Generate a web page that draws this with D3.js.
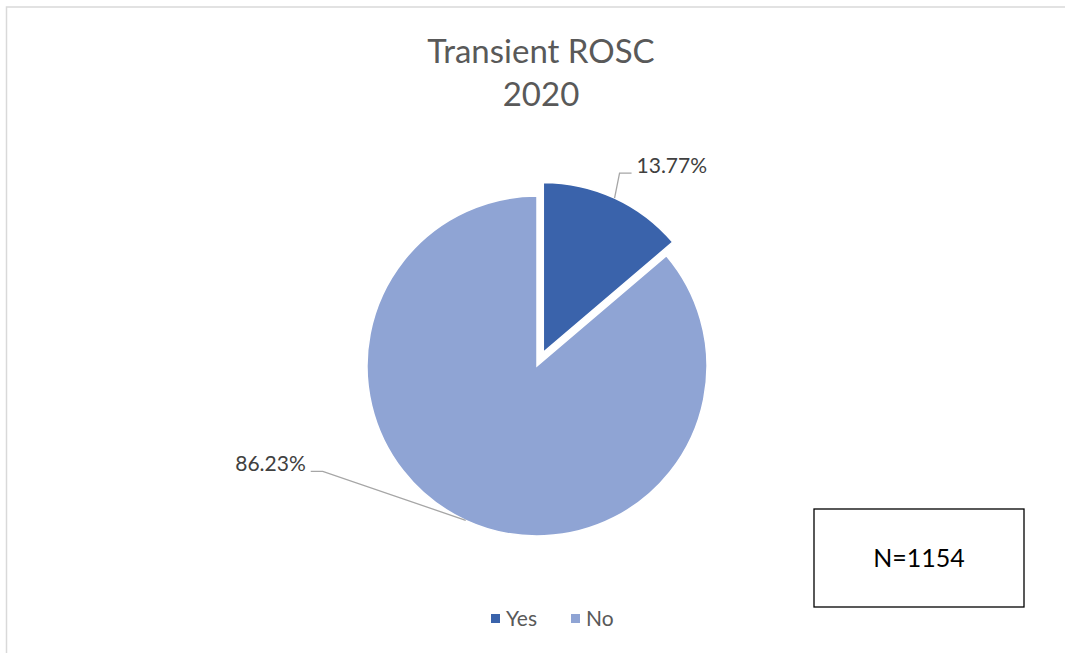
<!DOCTYPE html>
<html>
<head>
<meta charset="utf-8">
<script src="https://cdn.jsdelivr.net/npm/d3@7"></script>
<style>
  body { margin: 0; background: #fff; }
  text { font-family: Lato, "Open Sans", sans-serif; }
</style>
</head>
<body>
<div id="chart"></div>
<script>
// data
var categories = ["Yes", "No"]
var values = [13.77, 86.23]
var colors = ["#3A63AB", "#8FA4D4"]
var titleLines = ["Transient ROSC", "2020"]
var note = "N=1154"

var w = 1065
var h = 653

var cx = 537
var cy = 366
var radius = 170
var explode = [15, 0]

// label leader layout: elbow offset from slice edge, then horizontal run
var leader = [
  {dx: 5, dy: -25, run: 12},
  {dx: -143, dy: -49, run: -12}
]

var svg = d3.select("#chart").append("svg")
  .attr("width", w)
  .attr("height", h)

// chart area border (only top/left visible)
svg.append("rect")
  .attr("x", 6.5)
  .attr("y", 7)
  .attr("width", w)
  .attr("height", h)
  .attr("fill", "none")
  .attr("stroke", "#d9d9d9")
  .attr("stroke-width", 1.5)

svg.append("text")
  .attr("x", 541)
  .attr("text-anchor", "middle")
  .attr("fill", "#595959")
  .attr("font-size", 33)
  .selectAll("tspan")
  .data(titleLines)
  .enter().append("tspan")
  .attr("x", 541)
  .attr("y", (d, i) => 63 + i * 43)
  .text(d => d)

var data = categories.map((c, i) => ({cat: c, value: values[i]}))

var pie = d3.pie()
  .sort(null)
  .value(d => d.value)

var arc = d3.arc()
  .innerRadius(0)
  .outerRadius(radius)

var arcs = pie(data)

function offset(d, i) {
  var a = (d.startAngle + d.endAngle) / 2
  return [explode[i] * Math.sin(a), -explode[i] * Math.cos(a)]
}

var g = svg.append("g")
  .attr("transform", "translate(" + cx + "," + cy + ")")

g.selectAll("path.slice")
  .data(arcs)
  .enter().append("path")
  .attr("class", "slice")
  .attr("transform", (d, i) => "translate(" + offset(d, i) + ")")
  .attr("d", arc)
  .attr("fill", (d, i) => colors[i])
  .attr("stroke", "#fff")
  .attr("stroke-width", 1.5)

// data labels with leader lines
arcs.forEach(function(d, i) {
  var a = (d.startAngle + d.endAngle) / 2
  var o = offset(d, i)
  var x0 = o[0] + radius * Math.sin(a)
  var y0 = o[1] - radius * Math.cos(a)
  var x1 = x0 + leader[i].dx
  var y1 = y0 + leader[i].dy
  var x2 = x1 + leader[i].run
  g.append("polyline")
    .attr("points", [[x0, y0], [x1, y1], [x2, y1]].join(" "))
    .attr("fill", "none")
    .attr("stroke", "#a6a6a6")
    .attr("stroke-width", 1.3)
  g.append("text")
    .attr("x", x2 + (leader[i].run > 0 ? 5 : -5))
    .attr("y", y1)
    .attr("text-anchor", leader[i].run > 0 ? "start" : "end")
    .attr("fill", "#404040")
    .attr("font-size", 21)
    .text(d3.format(".2f")(d.data.value) + "%")
})

// legend
var legend = svg.append("g")
  .attr("transform", "translate(491,619)")

var lx = [0, 80]
categories.forEach(function(c, i) {
  legend.append("rect")
    .attr("x", lx[i])
    .attr("y", -5)
    .attr("width", 9)
    .attr("height", 9)
    .attr("fill", colors[i])
  legend.append("text")
    .attr("x", lx[i] + 15)
    .attr("y", 0)
    .attr("dy", "0.35em")
    .attr("fill", "#595959")
    .attr("font-size", 21)
    .text(c)
})

// N box
svg.append("rect")
  .attr("x", 814)
  .attr("y", 509)
  .attr("width", 210)
  .attr("height", 98)
  .attr("fill", "#fff")
  .attr("stroke", "#000")
  .attr("stroke-width", 1.3)

svg.append("text")
  .attr("x", 919)
  .attr("y", 558)
  .attr("dy", "0.35em")
  .attr("text-anchor", "middle")
  .attr("fill", "#000")
  .attr("font-size", 25)
  .text(note)
</script>
</body>
</html>
